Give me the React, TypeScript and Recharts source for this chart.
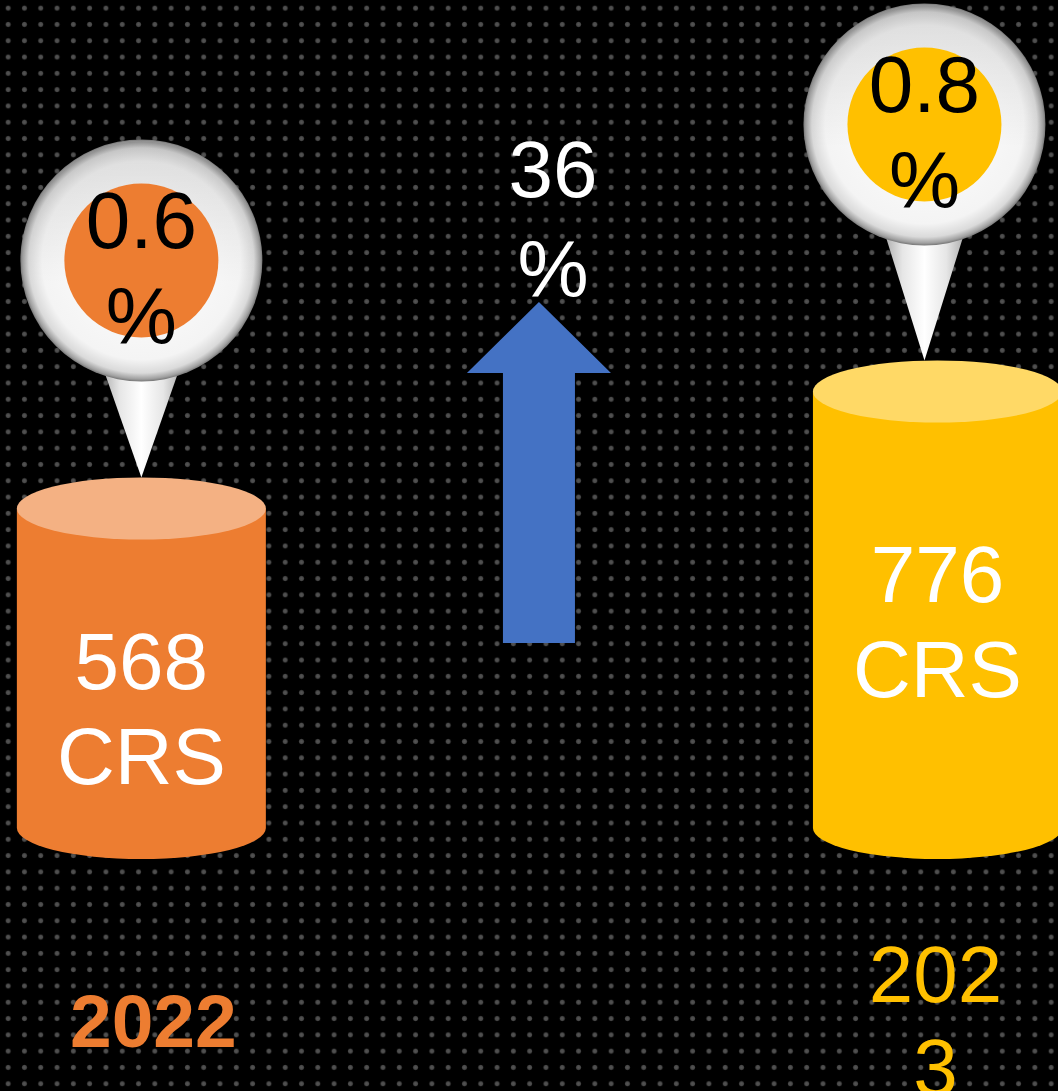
import { BarChart, Bar, XAxis, YAxis, ReferenceDot } from 'recharts'

// values
const years = ['2022', '2023']
const slots = [0, 2] // column slot, the growth arrow sits in slot 1
const crs = [568, 776]
const shares = [0.6, 0.8]
const growthPct = 36
const growthSlot = 1

const data = years.map((year, i) => ({ year, slot: slots[i], crs: crs[i], share: shares[i] }))
const meanCrs = crs.reduce((a, b) => a + b, 0) / crs.length

const FONT = '"Liberation Sans", Arial, sans-serif'
const RY = 31

const look: Record<string, any> = {
  '2022': { body: '#ED7D31', top: '#F4B183', bold: true, wrap: false, size: 75, dx: 12, dy: 219, textDy: 14, pinDx: 0, pinLift: 217 },
  '2023': { body: '#FFC000', top: '#FFD966', bold: false, wrap: true, size: 80, dx: -2, dy: 174, textDy: -16, pinDx: -13, pinLift: 236 },
}

function Pin({ cx, tipX, tipY, lift, fill, share, id }: any) {
  const cy = tipY - lift
  return (
    <g>
      <defs>
        <radialGradient id={`${id}-ball`} cx="50%" cy="50%" r="50%">
          <stop offset="0%" stopColor="#ffffff" />
          <stop offset="82%" stopColor="#f4f4f4" />
          <stop offset="93%" stopColor="#dadada" />
          <stop offset="98%" stopColor="#a0a0a0" />
          <stop offset="100%" stopColor="#767676" />
        </radialGradient>
        <linearGradient id={`${id}-shade`} x1="0" y1="0" x2="0" y2="1">
          <stop offset="0%" stopColor="#000" stopOpacity={0.1} />
          <stop offset="60%" stopColor="#000" stopOpacity={0} />
        </linearGradient>
        <linearGradient id={`${id}-tail`} x1="0" y1="0" x2="1" y2="0">
          <stop offset="0%" stopColor="#7d7d7d" />
          <stop offset="30%" stopColor="#e6e6e6" />
          <stop offset="50%" stopColor="#ffffff" />
          <stop offset="70%" stopColor="#e6e6e6" />
          <stop offset="100%" stopColor="#7d7d7d" />
        </linearGradient>
      </defs>
      <polygon
        points={`${cx - 55},${cy + 60} ${cx + 55},${cy + 60} ${tipX},${tipY}`}
        fill={`url(#${id}-tail)`}
      />
      <circle cx={cx} cy={cy} r={121} fill={`url(#${id}-ball)`} />
      <circle cx={cx} cy={cy} r={119} fill={`url(#${id}-shade)`} />
      <circle cx={cx} cy={cy} r={77} fill={fill} />
      <text x={cx} y={cy - 13} textAnchor="middle" fontFamily={FONT} fontSize={80} fill="#000">
        {share.toFixed(1)}
      </text>
      <text x={cx} y={cy + 83} textAnchor="middle" fontFamily={FONT} fontSize={80} fill="#000">
        %
      </text>
    </g>
  )
}

function Cylinder(props: any) {
  const { x, y, width, height, payload } = props
  const lk = look[payload.year]
  const cx = x + width / 2
  const rx = width / 2
  const bottom = y + height
  const mid = y + height * 0.52 + lk.textDy
  const yr: string = payload.year
  const lines = lk.wrap ? [yr.slice(0, 3), yr.slice(3)] : [yr]
  return (
    <g>
      <path
        d={`M${x},${y} L${x},${bottom} A${rx},${RY} 0 0 0 ${x + width},${bottom} L${x + width},${y} Z`}
        fill={lk.body}
      />
      <ellipse cx={cx} cy={y} rx={rx} ry={RY} fill={lk.top} />
      <text x={cx} y={mid} textAnchor="middle" fontFamily={FONT} fontSize={80} fill="#fff">
        {payload.crs}
      </text>
      <text x={cx} y={mid + 95} textAnchor="middle" fontFamily={FONT} fontSize={80} fill="#fff">
        CRS
      </text>
      <Pin
        cx={cx + lk.pinDx}
        tipX={cx + lk.pinDx}
        tipY={y - RY}
        lift={lk.pinLift}
        fill={lk.body}
        share={payload.share}
        id={`pin${yr}`}
      />
      {lines.map((ln, i) => (
        <text
          key={i}
          x={cx + lk.dx}
          y={bottom + lk.dy + i * 93}
          textAnchor="middle"
          fontFamily={FONT}
          fontSize={lk.size}
          fontWeight={lk.bold ? 700 : 400}
          fill={lk.body}
        >
          {ln}
        </text>
      ))}
    </g>
  )
}

function GrowthArrow(props: any) {
  const { cx, cy } = props
  const tip = cy - 148
  const base = cy - 77
  const end = cy + 193
  return (
    <g>
      <polygon
        points={`${cx},${tip} ${cx + 72},${base} ${cx + 36},${base} ${cx + 36},${end} ${cx - 36},${end} ${cx - 36},${base} ${cx - 72},${base}`}
        fill="#4472C4"
      />
      <text x={cx + 14} y={cy - 253} textAnchor="middle" fontFamily={FONT} fontSize={80} fill="#fff">
        {growthPct}
      </text>
      <text x={cx + 14} y={cy - 153} textAnchor="middle" fontFamily={FONT} fontSize={80} fill="#fff">
        %
      </text>
    </g>
  )
}

export default function App() {
  return (
    <div
      style={{
        position: 'absolute',
        left: 0,
        top: 0,
        width: 1058,
        height: 1091,
        backgroundColor: '#000',
        backgroundImage: 'radial-gradient(circle, #545454 0px, #4a4a4a 2px, rgba(0,0,0,0) 3px)',
        backgroundSize: '16.3px 16.3px',
        overflow: 'hidden',
      }}
    >
      <BarChart width={1058} height={1091} data={data} margin={{ top: 0, right: 0, bottom: 263, left: 0 }}>
        <XAxis type="number" dataKey="slot" domain={[-0.354, 2.304]} hide />
        <YAxis type="number" domain={[0, 1472]} hide />
        <Bar dataKey="crs" barSize={249} shape={Cylinder} isAnimationActive={false} />
        <ReferenceDot x={growthSlot} y={meanCrs} shape={GrowthArrow} />
      </BarChart>
    </div>
  )
}
